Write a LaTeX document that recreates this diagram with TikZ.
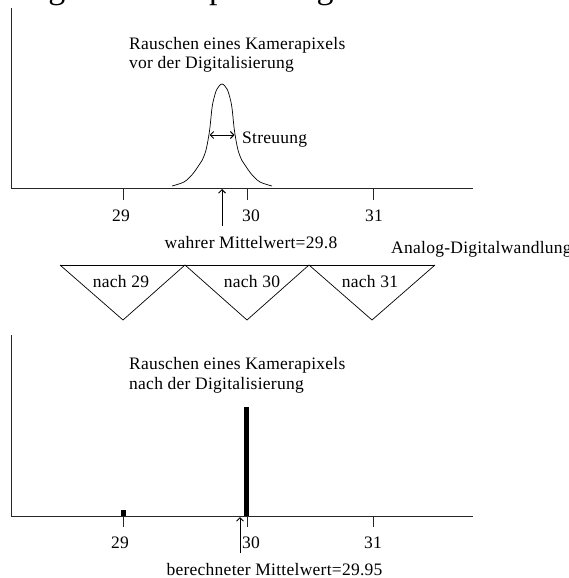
\documentclass[tikz,border=0pt]{standalone}
\usepackage{fontspec}
\setmainfont{Liberation Serif}[LetterSpace=1.5]
\usetikzlibrary{arrows.meta}
\begin{document}
\begin{tikzpicture}[x=1pt,y=-1pt,
  ax/.style={line width=0.8pt, black!85},
  thin line/.style={line width=0.7pt, black},
  lbl/.style={font=\fontsize{17.5}{20}\selectfont, inner sep=0pt, anchor=base},
  lblw/.style={lbl, anchor=base west},
  barb/.style={-{Straight Barb[length=3.5pt,width=7pt,line width=1pt]}},
  dbarb/.style={{Straight Barb[length=3.5pt,width=7pt,line width=0.9pt]}-{Straight Barb[length=3.5pt,width=7pt,line width=0.9pt]}},
  bar/.style={fill=black, draw=none}]
\useasboundingbox (0,0) rectangle (568,578);
\clip (0,0) rectangle (568,578);

% cut-off heading at the top edge
\node[anchor=base west, inner sep=0pt, font=\fontsize{34}{40}\selectfont] (head) at (7,-1) {zeigen der Empfehlung};

% ---------- upper plot ----------
\coordinate (ya0) at (11,8);
\coordinate (o0) at (11,188);
\coordinate (xa0) at (473,188);
\draw[ax] (ya0) -- (o0) -- (xa0);
\foreach \n/\x in {29/123, 30/247, 31/373} {
  \coordinate (tt\n) at (\x,188);
  \coordinate (tb\n) at (\x,200);
  \draw[ax] (tt\n) -- (tb\n);
}
\node[lbl] (l29a) at (121,221) {29};
\node[lbl] (l30a) at (251,221) {30};
\node[lbl] (l31a) at (374,221) {31};

% noise curve
\draw[thin line] plot[smooth, tension=0.55] coordinates {
 (172,186) (184,182) (192,174.8) (198,166.6) (202,160.5) (206,150) (209.5,131)
 (212,108) (214,98) (217,89) (222,84) (227,89) (230,98) (232,108) (234.5,131)
 (238,150) (242,160.5) (246,166.6) (252,174.8) (260,182) (272,186)};
\coordinate (s0) at (209.5,135);
\coordinate (s1) at (234.5,135);
\draw[thin line, dbarb] (s0) -- (s1);
\node[lblw] (streu) at (242,143) {Streuung};

\node[lblw] (t1a) at (129,49) {Rauschen eines Kamerapixels};
\node[lblw] (t1b) at (129,69) {vor der Digitalisierung};

\coordinate (wm0) at (222,226);
\coordinate (wm1) at (222,189);
\draw[thin line, barb] (wm0) -- (wm1);
\node[lbl] (wahr) at (251,248) {wahrer Mittelwert=29.8};

% ---------- conversion ----------
\node[lblw] (adw) at (391,253) {Analog-Digitalwandlung};
\coordinate (p0) at (60,265);
\coordinate (p1) at (185,265);
\coordinate (p2) at (309,265);
\coordinate (p3) at (435,265);
\coordinate (v1) at (123,320);
\coordinate (v2) at (247,320);
\coordinate (v3) at (372,320);
\draw[thin line] (p0) -- (p3);
\draw[thin line] (p0) -- (v1) -- (p1) -- (v2) -- (p2) -- (v3) -- (p3);
\node[lbl] (n29) at (121,287) {nach 29};
\node[lbl] (n30) at (252,287) {nach 30};
\node[lbl] (n31) at (370,287) {nach 31};

% ---------- lower plot ----------
\coordinate (ya1) at (11,335);
\coordinate (o1) at (11,516);
\coordinate (xa1) at (473,516);
\draw[ax] (ya1) -- (o1) -- (xa1);
\foreach \n/\x in {29/123, 30/247, 31/373} {
  \coordinate (bt\n) at (\x,516);
  \coordinate (bb\n) at (\x,527);
  \draw[ax] (bt\n) -- (bb\n);
}
\node[lbl] (l29b) at (120,548) {29};
\node[lbl] (l30b) at (251,548) {30};
\node[lbl] (l31b) at (373,548) {31};

\fill[bar] (121,510) rectangle (125.5,516);
\fill[bar] (244,407) rectangle (249,516);

\node[lblw] (t2a) at (129,369) {Rauschen eines Kamerapixels};
\node[lblw] (t2b) at (129,389) {nach der Digitalisierung};

\coordinate (bm0) at (240,553);
\coordinate (bm1) at (240,517);
\draw[thin line, barb] (bm0) -- (bm1);
\node[lbl] (ber) at (274.5,575) {berechneter Mittelwert=29.95};
\end{tikzpicture}
\end{document}
